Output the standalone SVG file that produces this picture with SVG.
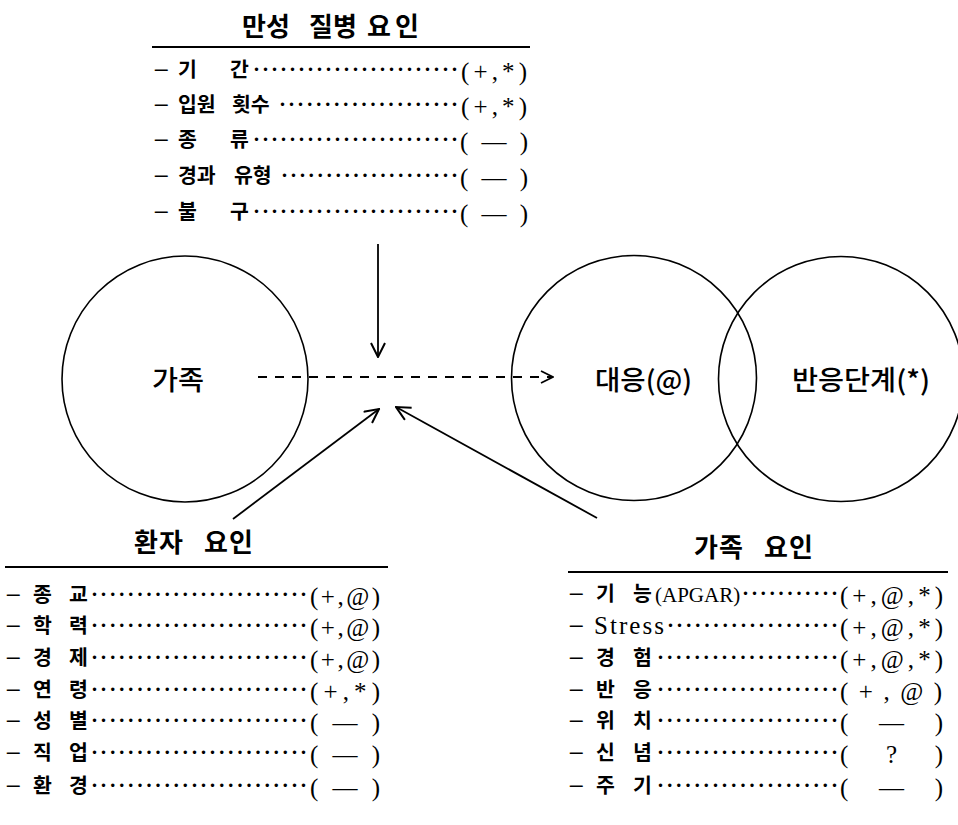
<svg xmlns="http://www.w3.org/2000/svg" width="958" height="825" viewBox="0 0 958 825">
<style>
.kt{font-family:"Noto Sans CJK KR","Noto Sans",sans-serif;font-weight:700;font-size:26px;fill:#000}
.kc{font-family:"Noto Sans CJK KR","Noto Sans",sans-serif;font-weight:500;font-size:27px;fill:#000}
.kl{font-family:"Noto Sans CJK KR","Noto Sans",sans-serif;font-weight:700;font-size:20.5px;fill:#000}
.ds{font-family:"Noto Sans CJK KR",sans-serif;font-weight:700;font-size:16px;fill:#000}
.dt{font-family:"Liberation Serif",serif;font-weight:700;font-size:21px;fill:#000}
.vl{font-family:"Liberation Serif","Noto Sans CJK KR",serif;font-size:25px;fill:#000}
.ap{font-family:"Liberation Serif",serif;font-size:21px;fill:#000}
.rule{stroke:#000;stroke-width:2}
.node{fill:none;stroke:#000;stroke-width:1.6}
.conn{fill:none;stroke:#000;stroke-width:1.8}
.dash{stroke-dasharray:9 8}
</style>
<defs>
<marker id="ah" viewBox="0 0 16 16" refX="15" refY="8" markerWidth="16" markerHeight="16" markerUnits="userSpaceOnUse" orient="auto">
<path d="M1,1 L15,8 L1,15" fill="none" stroke="#000" stroke-width="2"/>
</marker>
<marker id="ahs" viewBox="0 0 14 14" refX="13" refY="7" markerWidth="14" markerHeight="14" markerUnits="userSpaceOnUse" orient="auto">
<path d="M1,1 L13,7 L1,13" fill="none" stroke="#000" stroke-width="1.8"/>
</marker>
</defs>
<rect width="958" height="825" fill="#fff"/>

<g id="node-family">
<circle class="node" cx="185" cy="379" r="123"/>
<text class="kc" x="152" y="390" textLength="52" lengthAdjust="spacingAndGlyphs">가족</text>
</g>
<g id="node-reaction-stage">
<circle class="node" cx="841" cy="379" r="122.5"/>
<text class="kc" x="792" y="390" textLength="138" lengthAdjust="spacingAndGlyphs">반응단계(*)</text>
</g>
<g id="node-coping">
<circle class="node" cx="634" cy="378" r="122.5" fill="#fff"/>
<text class="kc" x="595" y="390" textLength="97" lengthAdjust="spacingAndGlyphs">대응(@)</text>
</g>

<g id="connectors">
<line class="conn" x1="378" y1="244" x2="378" y2="357" marker-end="url(#ah)"/>
<line class="conn dash" x1="258" y1="377" x2="553" y2="377" marker-end="url(#ahs)"/>
<line class="conn" x1="233" y1="519" x2="379" y2="409" marker-end="url(#ah)"/>
<line class="conn" x1="597" y1="518" x2="396" y2="407" marker-end="url(#ah)"/>
</g>

<g id="chronic-illness-factors">
<text class="kt" y="36" x="242 266 292 309 333 358 367 395">만성 질병 요인</text>
<line class="rule" x1="152" y1="47" x2="530" y2="47"/>
<g>
<text class="ds" x="154" y="75">—</text>
<text class="kl" x="178" y="77">기</text><text class="kl" x="230" y="77">간</text>
<text class="dt" x="253" y="76" textLength="205" lengthAdjust="spacing">·······················</text>
<text class="vl" x="461" y="80" textLength="66" lengthAdjust="spacing">(+,*)</text>
</g>
<g>
<text class="ds" x="154" y="110">—</text>
<text class="kl" x="178" y="112">입원</text><text class="kl" x="232" y="112">횟수</text>
<text class="dt" x="279" y="111" textLength="179" lengthAdjust="spacing">····················</text>
<text class="vl" x="461" y="115" textLength="66" lengthAdjust="spacing">(+,*)</text>
</g>
<g>
<text class="ds" x="154" y="145">—</text>
<text class="kl" x="178" y="147">종</text><text class="kl" x="230" y="147">류</text>
<text class="dt" x="253" y="146" textLength="205" lengthAdjust="spacing">·······················</text>
<text class="vl" x="460" y="150" textLength="68" lengthAdjust="spacing">( — )</text>
</g>
<g>
<text class="ds" x="154" y="181">—</text>
<text class="kl" x="178" y="183">경과</text><text class="kl" x="234" y="183">유형</text>
<text class="dt" x="281" y="182" textLength="177" lengthAdjust="spacing">····················</text>
<text class="vl" x="460" y="186" textLength="68" lengthAdjust="spacing">( — )</text>
</g>
<g>
<text class="ds" x="154" y="217">—</text>
<text class="kl" x="178" y="219">불</text><text class="kl" x="230" y="219">구</text>
<text class="dt" x="253" y="218" textLength="205" lengthAdjust="spacing">·······················</text>
<text class="vl" x="460" y="222" textLength="68" lengthAdjust="spacing">( — )</text>
</g>
</g>

<g id="patient-factors">
<text class="kt" y="552" x="134 159 184 204 229">환자 요인</text>
<line class="rule" x1="5" y1="567" x2="388" y2="567"/>
<g><text class="ds" x="6" y="600">—</text><text class="kl" x="33" y="602">종</text><text class="kl" x="69" y="602">교</text>
<text class="dt" x="91" y="601" textLength="216" lengthAdjust="spacing">························</text>
<text class="vl" x="310" y="605" textLength="70" lengthAdjust="spacing">(+,@)</text></g>
<g><text class="ds" x="6" y="631">—</text><text class="kl" x="33" y="633">학</text><text class="kl" x="69" y="633">력</text>
<text class="dt" x="91" y="632" textLength="216" lengthAdjust="spacing">························</text>
<text class="vl" x="310" y="636" textLength="70" lengthAdjust="spacing">(+,@)</text></g>
<g><text class="ds" x="6" y="663">—</text><text class="kl" x="33" y="665">경</text><text class="kl" x="69" y="665">제</text>
<text class="dt" x="91" y="664" textLength="216" lengthAdjust="spacing">························</text>
<text class="vl" x="310" y="668" textLength="70" lengthAdjust="spacing">(+,@)</text></g>
<g><text class="ds" x="6" y="695">—</text><text class="kl" x="33" y="697">연</text><text class="kl" x="69" y="697">령</text>
<text class="dt" x="91" y="696" textLength="216" lengthAdjust="spacing">························</text>
<text class="vl" x="310" y="700" textLength="70" lengthAdjust="spacing">(+,*)</text></g>
<g><text class="ds" x="6" y="726">—</text><text class="kl" x="33" y="728">성</text><text class="kl" x="69" y="728">별</text>
<text class="dt" x="91" y="727" textLength="216" lengthAdjust="spacing">························</text>
<text class="vl" x="310" y="731" textLength="70" lengthAdjust="spacing">( — )</text></g>
<g><text class="ds" x="6" y="758">—</text><text class="kl" x="33" y="760">직</text><text class="kl" x="69" y="760">업</text>
<text class="dt" x="91" y="759" textLength="216" lengthAdjust="spacing">························</text>
<text class="vl" x="310" y="763" textLength="70" lengthAdjust="spacing">( — )</text></g>
<g><text class="ds" x="6" y="791">—</text><text class="kl" x="33" y="793">환</text><text class="kl" x="69" y="793">경</text>
<text class="dt" x="91" y="792" textLength="216" lengthAdjust="spacing">························</text>
<text class="vl" x="310" y="796" textLength="70" lengthAdjust="spacing">( — )</text></g>
</g>

<g id="family-factors">
<text class="kt" y="557" x="694 719 744 764 789">가족 요인</text>
<line class="rule" x1="568" y1="572" x2="948" y2="572"/>
<g><text class="ds" x="569" y="599">—</text><text class="kl" x="596" y="601">기</text><text class="kl" x="633" y="601">능</text>
<text class="ap" x="655" y="602">(APGAR)</text>
<text class="dt" x="742" y="600" textLength="96" lengthAdjust="spacing">···········</text>
<text class="vl" x="840" y="604" textLength="103" lengthAdjust="spacing">(+,@,*)</text></g>
<g><text class="ds" x="569" y="631">—</text>
<text class="vl" x="594" y="634" textLength="70" lengthAdjust="spacing">Stress</text>
<text class="dt" x="667" y="632" textLength="171" lengthAdjust="spacing">···················</text>
<text class="vl" x="840" y="636" textLength="103" lengthAdjust="spacing">(+,@,*)</text></g>
<g><text class="ds" x="569" y="663">—</text><text class="kl" x="596" y="665">경</text><text class="kl" x="633" y="665">험</text>
<text class="dt" x="657" y="664" textLength="181" lengthAdjust="spacing">····················</text>
<text class="vl" x="840" y="668" textLength="103" lengthAdjust="spacing">(+,@,*)</text></g>
<g><text class="ds" x="569" y="695">—</text><text class="kl" x="596" y="697">반</text><text class="kl" x="633" y="697">응</text>
<text class="dt" x="657" y="696" textLength="181" lengthAdjust="spacing">····················</text>
<text class="vl" x="840" y="700" textLength="102" lengthAdjust="spacing">( + , @ )</text></g>
<g><text class="ds" x="569" y="726">—</text><text class="kl" x="596" y="728">위</text><text class="kl" x="633" y="728">치</text>
<text class="dt" x="657" y="727" textLength="181" lengthAdjust="spacing">····················</text>
<text class="vl" x="840" y="731" textLength="103" lengthAdjust="spacing">(  —  )</text></g>
<g><text class="ds" x="569" y="758">—</text><text class="kl" x="596" y="760">신</text><text class="kl" x="633" y="760">념</text>
<text class="dt" x="657" y="759" textLength="181" lengthAdjust="spacing">····················</text>
<text class="vl" x="840" y="763" textLength="103" lengthAdjust="spacing">(  ?  )</text></g>
<g><text class="ds" x="569" y="791">—</text><text class="kl" x="596" y="793">주</text><text class="kl" x="633" y="793">기</text>
<text class="dt" x="657" y="792" textLength="181" lengthAdjust="spacing">····················</text>
<text class="vl" x="840" y="796" textLength="103" lengthAdjust="spacing">(  —  )</text></g>
</g>
</svg>
